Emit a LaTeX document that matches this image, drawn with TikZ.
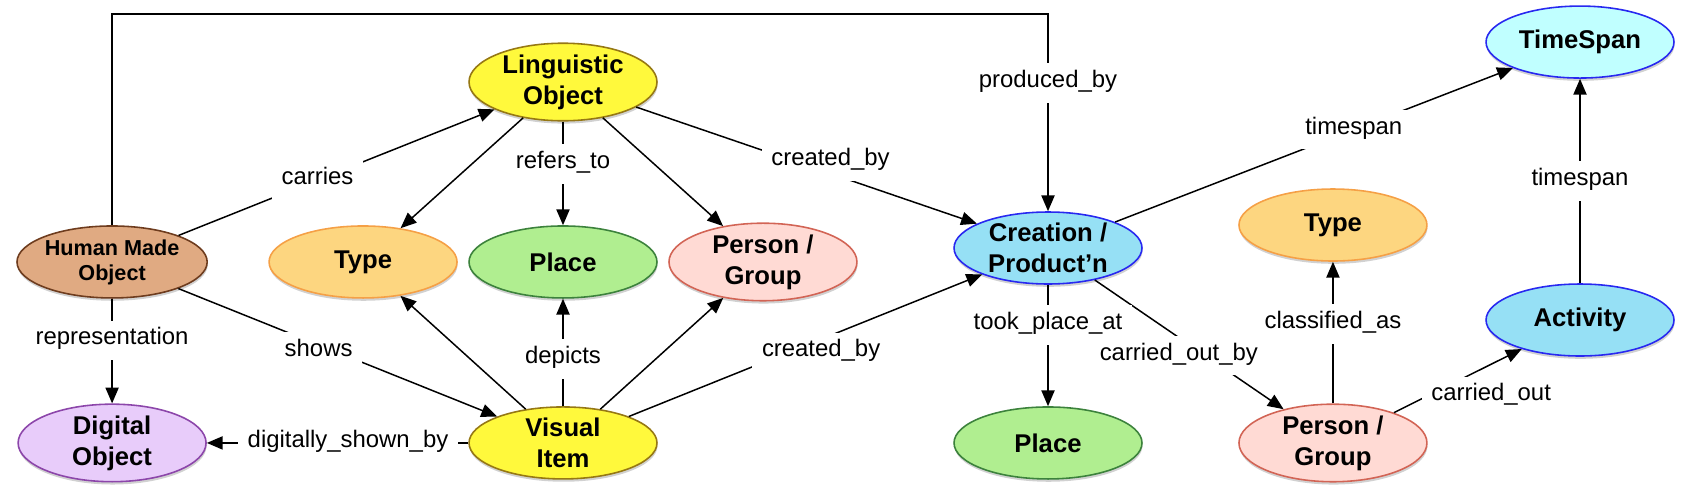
\documentclass[tikz,border=0pt]{standalone}
\usepackage{fontspec}
\setmainfont{Liberation Sans}
\usepackage{tikz}
\usetikzlibrary{positioning,arrows.meta,shapes.geometric,shadows}

\definecolor{hmofill}{HTML}{E0AA82}
\definecolor{hmoline}{HTML}{6E3C1E}
\definecolor{digifill}{HTML}{E8CCFA}
\definecolor{digiline}{HTML}{8C46AA}
\definecolor{yelfill}{HTML}{FFF93C}
\definecolor{yelline}{HTML}{967814}
\definecolor{typefill}{HTML}{FDD680}
\definecolor{typeline}{HTML}{F5A046}
\definecolor{placefill}{HTML}{B0EE90}
\definecolor{placeline}{HTML}{3C823C}
\definecolor{persfill}{HTML}{FFDAD4}
\definecolor{persline}{HTML}{D26455}
\definecolor{evtfill}{HTML}{96E0F5}
\definecolor{evtline}{HTML}{2828F0}
\definecolor{spanfill}{HTML}{C0FFFF}

\begin{document}
\begin{tikzpicture}[
    x=0.02cm, y=-0.02cm, on grid,
    ovalnode/.style={ellipse, draw, line width=0.9pt, minimum width=3.76cm, minimum height=1.44cm,
        inner sep=0pt, align=center, font=\fontsize{14.6}{17.6}\selectfont\bfseries,
        drop shadow={shadow xshift=0.3pt, shadow yshift=-1.6pt, opacity=0.3, fill=black!60}},
    hmooval/.style={ovalnode, fill=hmofill, draw=hmoline, font=\fontsize{12.3}{14.2}\selectfont\bfseries},
    digioval/.style={ovalnode, fill=digifill, draw=digiline},
    yeloval/.style={ovalnode, fill=yelfill, draw=yelline},
    typeoval/.style={ovalnode, fill=typefill, draw=typeline},
    placeoval/.style={ovalnode, fill=placefill, draw=placeline},
    persoval/.style={ovalnode, fill=persfill, draw=persline},
    evtoval/.style={ovalnode, fill=evtfill, draw=evtline},
    spanoval/.style={ovalnode, fill=spanfill, draw=evtline},
    rel/.style={->, >={Triangle[length=9pt,width=7.5pt]}, line width=0.85pt},
    rellabel/.style={fill=white, inner xsep=5.5pt, inner ysep=6.5pt, text height=0.72em,
        text depth=0.22em, font=\fontsize{13.6}{16}\selectfont}
    ]
        \useasboundingbox (0,0) rectangle (1692,494);

        %Nodes
        \node[yeloval]      (ling)      at (563,82)             {Linguistic\\Object};
        \node[placeoval]    (placeL)    [below=3.6cm of ling]   {Place};
        \node[typeoval]     (typeL)     [left=4cm of placeL]    {Type};
        \node[persoval]     (persL)     [right=4cm of placeL]   {Person /\\Group};
        \node[yeloval]      (visual)    [below=3.62cm of placeL] {Visual\\Item};
        \node[hmooval]      (hmo)       [left=5.02cm of typeL]  {Human Made\\Object};
        \node[digioval]     (digital)   [below=3.62cm of hmo]   {Digital\\Object};
        \node[evtoval]      (creation)  at (1048,248)           {Creation /\\Product’n};
        \node[placeoval]    (placeR)    [below=3.9cm of creation] {Place};
        \node[persoval]     (persR)     [right=5.7cm of placeR] {Person /\\Group};
        \node[typeoval]     (typeR)     [above=4.36cm of persR] {Type};
        \node[evtoval]      (activity)  at (1580,320)           {Activity};
        \node[spanoval]     (timespan)  [above=5.56cm of activity] {TimeSpan};
        \coordinate (ceiling) at (0,14);

        %Lines
        \draw[rel] (hmo) -- node[rellabel, pos=0.44] {carries} (ling);
        \draw[rel] (hmo) -- node[rellabel, pos=0.40] {representation} (digital);
        \draw[rel] (hmo) -- node[rellabel, pos=0.44, yshift=-0.14cm] {shows} (visual);
        \draw[rel] (hmo.north) |- (creation.north |- ceiling)
            -- node[rellabel, pos=0.35] {produced\_by} (creation.north);
        \draw[rel] (ling) -- (typeL);
        \draw[rel] (ling) -- node[rellabel, pos=0.41] {refers\_to} (placeL);
        \draw[rel] (ling) -- (persL);
        \draw[rel] (ling) -- node[rellabel, pos=0.57, yshift=0.25cm] {created\_by} (creation);
        \draw[rel] (visual) -- (typeL);
        \draw[rel] (visual) -- node[rellabel, pos=0.44] {depicts} (placeL);
        \draw[rel] (visual) -- (persL);
        \draw[rel] (visual) -- node[rellabel, pos=0.53, xshift=0.1cm, yshift=-0.22cm] {created\_by} (creation);
        \draw[rel] (visual) -- node[rellabel, pos=0.46] {digitally\_shown\_by} (digital);
        \draw[rel] (creation) -- node[rellabel, pos=0.60] {timespan} (timespan);
        \draw[rel] (creation) -- node[rellabel, pos=0.49, xshift=-0.17cm, yshift=-0.25cm] {carried\_out\_by} (persR);
        \draw[rel] (creation) -- node[rellabel, pos=0.33] {took\_place\_at} (placeR);
        \draw[rel] (persR) -- node[rellabel, pos=0.56] {classified\_as} (typeR);
        \draw[rel] (persR) -- node[rellabel, pos=0.62, xshift=0.36cm, yshift=-0.46cm] {carried\_out} (activity);
        \draw[rel] (activity) -- node[rellabel] {timespan} (timespan);
\end{tikzpicture}
\end{document}
